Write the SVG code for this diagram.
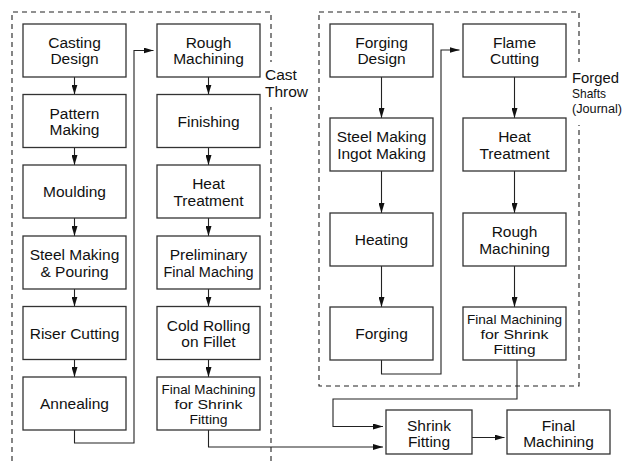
<svg xmlns="http://www.w3.org/2000/svg" width="623" height="465" viewBox="0 0 623 465">
<defs>
<marker id="ah" markerUnits="userSpaceOnUse" markerWidth="10" markerHeight="6" refX="10" refY="3" orient="auto">
<path d="M0,0 L10,3 L0,6 z" fill="#111"/>
</marker>
<style>
.box{fill:#fff;stroke:#333;stroke-width:1.3}
.dash{fill:none;stroke:#222;stroke-width:1.1;stroke-dasharray:5,4}
.c{fill:none;stroke:#222;stroke-width:1.1;marker-end:url(#ah)}
text{font-family:"Liberation Sans",Arial,sans-serif;font-size:15.5px;fill:#111;text-anchor:middle}
.lab{text-anchor:start}
.s{font-size:13.4px}
</style>
</defs>
<rect width="623" height="465" fill="#fff"/>
<g id="regions">
<path class="dash" d="M12,470 L12,12 L271,12 L271,470"/>
<rect class="dash" x="319" y="12" width="260" height="374"/>
</g>
<g id="label-cast">
<rect x="263" y="62" width="48" height="45" fill="#fff"/>
<text class="lab" x="265" y="80">Cast</text>
<text class="lab" x="265" y="97">Throw</text>
</g>
<g id="label-forged">
<rect x="570" y="62" width="53" height="63" fill="#fff"/>
<text class="lab" x="572" y="83" textLength="47" lengthAdjust="spacingAndGlyphs">Forged</text>
<text class="lab" x="572" y="97.7" style="font-size:13.5px" textLength="34" lengthAdjust="spacingAndGlyphs">Shafts</text>
<text class="lab" x="572" y="113" style="font-size:12.5px" textLength="50" lengthAdjust="spacingAndGlyphs">(Journal)</text>
</g>
<g id="connectors">
<line class="c" x1="74.5" y1="77" x2="74.5" y2="94.5"/>
<line class="c" x1="74.5" y1="147.5" x2="74.5" y2="165"/>
<line class="c" x1="74.5" y1="218" x2="74.5" y2="236"/>
<line class="c" x1="74.5" y1="289" x2="74.5" y2="306.5"/>
<line class="c" x1="74.5" y1="359.5" x2="74.5" y2="377"/>
<line class="c" x1="208.5" y1="77" x2="208.5" y2="94.5"/>
<line class="c" x1="208.5" y1="147.5" x2="208.5" y2="165"/>
<line class="c" x1="208.5" y1="218" x2="208.5" y2="236"/>
<line class="c" x1="208.5" y1="289" x2="208.5" y2="306.5"/>
<line class="c" x1="208.5" y1="359.5" x2="208.5" y2="377"/>
<polyline class="c" points="74.5,430 74.5,443 134,443 134,50.5 153.5,50.5"/>
<polyline class="c" points="208.5,430 208.5,447 383,447"/>
<line class="c" x1="381.5" y1="77" x2="381.5" y2="118"/>
<line class="c" x1="381.5" y1="171" x2="381.5" y2="213"/>
<line class="c" x1="381.5" y1="266" x2="381.5" y2="307"/>
<line class="c" x1="514.5" y1="77" x2="514.5" y2="118"/>
<line class="c" x1="514.5" y1="171" x2="514.5" y2="213"/>
<line class="c" x1="514.5" y1="266" x2="514.5" y2="307"/>
<polyline class="c" points="381.5,360 381.5,374 441,374 441,50 459.5,50"/>
<polyline class="c" points="517,360 517,399 333,399 333,426.5 383,426.5"/>
<line class="c" x1="472" y1="437.5" x2="504.5" y2="437.5"/>
</g>
<g id="casting-design"><rect class="box" x="23" y="24" width="103" height="53"/><text x="74.5" y="47.5">Casting</text><text x="74.5" y="64">Design</text></g>
<g id="pattern-making"><rect class="box" x="23" y="94.5" width="103" height="53"/><text x="74.5" y="118.5">Pattern</text><text x="74.5" y="135">Making</text></g>
<g id="moulding"><rect class="box" x="23" y="165" width="103" height="53"/><text x="74.5" y="197">Moulding</text></g>
<g id="steel-pouring"><rect class="box" x="23" y="236" width="103" height="53"/><text x="74.5" y="260">Steel Making</text><text x="74.5" y="276.5">&amp; Pouring</text></g>
<g id="riser-cutting"><rect class="box" x="23" y="306.5" width="103" height="53"/><text x="74.5" y="338.5">Riser Cutting</text></g>
<g id="annealing"><rect class="box" x="23" y="377" width="103" height="53"/><text x="74.5" y="409">Annealing</text></g>
<g id="cast-rough-machining"><rect class="box" x="157" y="24" width="103" height="53"/><text x="208.5" y="47.5">Rough</text><text x="208.5" y="64">Machining</text></g>
<g id="finishing"><rect class="box" x="157" y="94.5" width="103" height="53"/><text x="208.5" y="126.5">Finishing</text></g>
<g id="cast-heat-treatment"><rect class="box" x="157" y="165" width="103" height="53"/><text x="208.5" y="189">Heat</text><text x="208.5" y="205.5">Treatment</text></g>
<g id="preliminary"><rect class="box" x="157" y="236" width="103" height="53"/><text x="208.5" y="260">Preliminary</text><text x="208.5" y="276.5" textLength="90" lengthAdjust="spacingAndGlyphs">Final Maching</text></g>
<g id="cold-rolling"><rect class="box" x="157" y="306.5" width="103" height="53"/><text x="208.5" y="330.5">Cold Rolling</text><text x="208.5" y="347">on Fillet</text></g>
<g id="cast-final-machining"><rect class="box" x="157" y="377" width="103" height="53"/><text class="s" x="208.5" y="393.5" textLength="94" lengthAdjust="spacingAndGlyphs">Final Machining</text><text class="s" x="208.5" y="408.5" textLength="68" lengthAdjust="spacingAndGlyphs">for Shrink</text><text class="s" x="208.5" y="423.5" textLength="38" lengthAdjust="spacingAndGlyphs">Fitting</text></g>
<g id="forging-design"><rect class="box" x="330" y="24" width="103" height="53"/><text x="381.5" y="47.5">Forging</text><text x="381.5" y="64">Design</text></g>
<g id="ingot-making"><rect class="box" x="330" y="118" width="103" height="53"/><text x="381.5" y="142">Steel Making</text><text x="381.5" y="158.5">Ingot Making</text></g>
<g id="heating"><rect class="box" x="330" y="213" width="103" height="53"/><text x="381.5" y="245">Heating</text></g>
<g id="forging"><rect class="box" x="330" y="307" width="103" height="53"/><text x="381.5" y="339">Forging</text></g>
<g id="flame-cutting"><rect class="box" x="463" y="24" width="103" height="53"/><text x="514.5" y="47.5">Flame</text><text x="514.5" y="64">Cutting</text></g>
<g id="forged-heat-treatment"><rect class="box" x="463" y="118" width="103" height="53"/><text x="514.5" y="142">Heat</text><text x="514.5" y="158.5">Treatment</text></g>
<g id="forged-rough-machining"><rect class="box" x="463" y="213" width="103" height="53"/><text x="514.5" y="237">Rough</text><text x="514.5" y="253.5">Machining</text></g>
<g id="forged-final-machining"><rect class="box" x="463" y="307" width="103" height="53"/><text class="s" x="514.5" y="324" textLength="95" lengthAdjust="spacingAndGlyphs">Final Machining</text><text class="s" x="514.5" y="339" textLength="68" lengthAdjust="spacingAndGlyphs">for Shrink</text><text class="s" x="514.5" y="354" textLength="42" lengthAdjust="spacingAndGlyphs">Fitting</text></g>
<g id="shrink-fitting"><rect class="box" x="386" y="410" width="86" height="44"/><text x="429" y="431">Shrink</text><text x="429" y="447">Fitting</text></g>
<g id="final-machining"><rect class="box" x="507" y="410" width="103" height="44"/><text x="558.5" y="431">Final</text><text x="558.5" y="447">Machining</text></g>
</svg>
